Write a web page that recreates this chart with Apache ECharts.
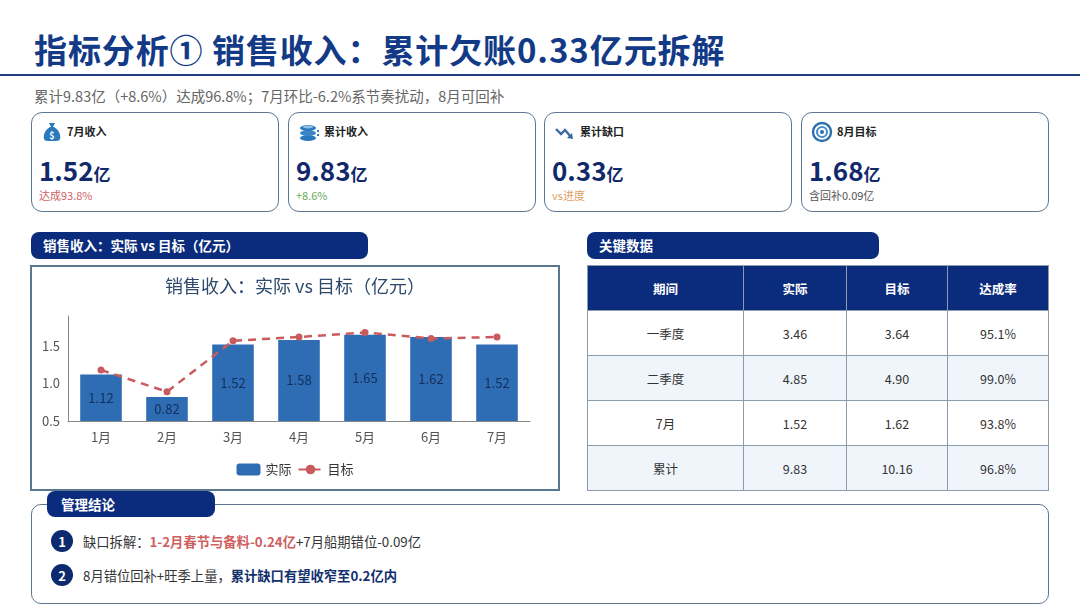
<!DOCTYPE html>
<html>
<head>
<meta charset="utf-8">
<script src="https://cdn.jsdelivr.net/npm/echarts@6/dist/echarts.min.js"></script>
<style>
  * { box-sizing: border-box; margin: 0; padding: 0; }
  body { width: 1080px; height: 608px; background: #fff; position: relative; overflow: hidden;
         font-family: "Noto Sans CJK SC", "Noto Sans", sans-serif; color: #333; }
  .abs { position: absolute; }
  #title { left: 34px; top: 25px; font-size: 33px; font-weight: 700; color: #133a86; letter-spacing: 0.9px; white-space: nowrap; }
  #rule { left: 0; top: 74px; width: 1080px; height: 2px; background: #1f3f7c; }
  #sub { left: 34px; top: 85px; font-size: 14.5px; color: #666; white-space: nowrap; }
  .card { border: 1.5px solid #5d7791; border-radius: 11px; width: 248px; height: 100px; top: 112px; }
  .card .ic { position: absolute; left: 9px; top: 8px; width: 22px; height: 22px; }
  .card .lb { position: absolute; left: 35px; top: 10px; font-size: 11px; font-weight: 700; color: #222; }
  .card .val { position: absolute; left: 7px; top: 38px; font-size: 26px; font-weight: 700; color: #11296a; white-space: nowrap; }
  .card .val span { font-size: 17px; }
  .card .note { position: absolute; left: 7px; top: 74px; font-size: 11px; white-space: nowrap; }
  .hdr { top: 232px; height: 27px; background: #0b2c7c; border-radius: 8px; color: #fff; font-size: 13.5px; font-weight: 700; line-height: 27px; padding-left: 12px; }
  #chartBox { left: 30px; top: 265px; width: 530px; height: 226px; border: 2px solid #5a7890; }
  #chart { position: absolute; left: 0; top: 0; width: 526px; height: 222px; }
  #tbl { left: 587px; top: 265px; border-collapse: collapse; font-size: 12.5px; }
  #tbl th, #tbl td { border: 1px solid #8b9cad; text-align: center; height: 45px; }
  #tbl th { background: #0b2c7c; color: #fff; font-weight: 700; }
  #tbl tr:nth-child(odd) td { background: #f0f5fc; }
  #concl { left: 31px; top: 504px; width: 1018px; height: 100px; border: 1.5px solid #5d7791; border-radius: 10px; }
  .item { left: 51px; font-size: 13.3px; color: #333; white-space: nowrap; display: flex; align-items: center; }
  .num { width: 22px; height: 22px; border-radius: 50%; background: #0d2a6e; color: #fff; font-size: 13px; font-weight: 700;
         display: inline-flex; align-items: center; justify-content: center; margin-right: 10px; }
</style>
</head>
<body>
<div id="title" class="abs">指标分析① 销售收入：累计欠账0.33亿元拆解</div>
<div id="rule" class="abs"></div>
<div id="sub" class="abs">累计9.83亿（+8.6%）达成96.8%；7月环比-6.2%系节奏扰动，8月可回补</div>

<div id="cards"></div>

<div class="abs hdr" style="left:31px;width:337px;">销售收入：实际 vs 目标（亿元）</div>
<div class="abs hdr" style="left:587px;width:292px;">关键数据</div>

<div id="chartBox" class="abs"><div id="chart"></div></div>

<table id="tbl" class="abs"></table>

<div id="concl" class="abs"></div>
<div class="abs hdr" style="left:47px;top:491px;width:168px;height:26px;line-height:26px;padding-left:14px;">管理结论</div>
<div class="abs item" style="top:530px;"><span class="num">1</span>缺口拆解：<b style="color:#cf5f5f;">1-2月春节与备料-0.24亿</b>+7月船期错位-0.09亿</div>
<div class="abs item" style="top:564px;"><span class="num">2</span>8月错位回补+旺季上量，<b style="color:#13306e;">累计缺口有望收窄至0.2亿内</b></div>

<script>
var months = ['1月', '2月', '3月', '4月', '5月', '6月', '7月'];
var actual = [1.12, 0.82, 1.52, 1.58, 1.65, 1.62, 1.52];
var target = [1.18, 0.89, 1.57, 1.62, 1.68, 1.60, 1.62];

var tableHead = ['期间', '实际', '目标', '达成率'];
var periods = ['一季度', '二季度', '7月', '累计'];
var periodActual = ['3.46', '4.85', '1.52', '9.83'];
var periodTarget = ['3.64', '4.90', '1.62', '10.16'];
var periodRate = ['95.1%', '99.0%', '93.8%', '96.8%'];

var cardLabels = ['7月收入', '累计收入', '累计缺口', '8月目标'];
var cardValues = ['1.52', '9.83', '0.33', '1.68'];
var cardNotes = ['达成93.8%', '+8.6%', 'vs进度', '含回补0.09亿'];
var cardNoteColors = ['#d06464', '#6aaa5a', '#e0a064', '#555'];
var cardLeft = [31, 288, 544, 801];

var icons = [
  '<svg viewBox="0 0 22 22"><path d="M8 2h6l-2 4h-2z" fill="#2c78bd"/><path d="M9 6h4c5 3 7 8 6 12-1 2-3 2-8 2s-7 0-8-2c-1-4 1-9 6-12z" fill="#2c78bd"/><text x="11" y="17.5" font-size="9" font-weight="700" fill="#fff" text-anchor="middle">$</text></svg>',
  '<svg viewBox="0 0 22 22"><ellipse cx="10" cy="17" rx="8" ry="3" fill="#2c78bd"/><ellipse cx="10" cy="12" rx="8" ry="3" fill="#3a86c8"/><ellipse cx="10" cy="7" rx="8" ry="3" fill="#2c78bd"/><ellipse cx="10" cy="6" rx="5" ry="1.4" fill="#8fc0e8"/><rect x="19" y="9" width="2" height="2" fill="#2c78bd"/><rect x="19" y="13" width="2" height="2" fill="#2c78bd"/></svg>',
  '<svg viewBox="0 0 22 22"><polyline points="2,8 7,13 11,9 17,16" fill="none" stroke="#3a6aa4" stroke-width="2.4"/><polygon points="13,17 19,18 18,12" fill="#3a6aa4"/></svg>',
  '<svg viewBox="0 0 22 22"><circle cx="11" cy="11" r="9" fill="none" stroke="#2c6fae" stroke-width="2.4"/><circle cx="11" cy="11" r="5" fill="none" stroke="#4a90c8" stroke-width="2.2"/><circle cx="11" cy="11" r="2" fill="#2c6fae"/></svg>'
];

var cardsHtml = '';
for (var i = 0; i < cardLabels.length; i++) {
  cardsHtml += '<div class="abs card" style="left:' + cardLeft[i] + 'px;">' +
    '<div class="ic">' + icons[i] + '</div>' +
    '<div class="lb">' + cardLabels[i] + '</div>' +
    '<div class="val">' + cardValues[i] + '<span>亿</span></div>' +
    '<div class="note" style="color:' + cardNoteColors[i] + ';">' + cardNotes[i] + '</div></div>';
}
document.getElementById('cards').innerHTML = cardsHtml;

var colW = [156, 103, 101, 101];
var tHtml = '<tr>';
tableHead.forEach(function (h, k) { tHtml += '<th style="width:' + colW[k] + 'px">' + h + '</th>'; });
tHtml += '</tr>';
periods.forEach(function (p, k) {
  tHtml += '<tr><td>' + p + '</td><td>' + periodActual[k] + '</td><td>' + periodTarget[k] + '</td><td>' + periodRate[k] + '</td></tr>';
});
document.getElementById('tbl').innerHTML = tHtml;

var myChart = echarts.init(document.getElementById('chart'));
var option = {
  animation: false,
  textStyle: { fontFamily: '"Noto Sans CJK SC", sans-serif' },
  title: {
    text: '销售收入：实际 vs 目标（亿元）',
    left: 'center',
    top: 5,
    textStyle: { fontSize: 18, fontWeight: 'normal', color: '#2d4a6c' }
  },
  legend: {
    bottom: 8,
    left: 'center',
    itemWidth: 24,
    itemHeight: 12,
    itemGap: 6,
    textStyle: { fontSize: 13, color: '#333' },
    data: ['实际', '目标']
  },
  grid: { left: 36, right: 28, top: 49, bottom: 68 },
  xAxis: {
    type: 'category',
    data: months,
    axisLine: { lineStyle: { color: '#888' } },
    axisTick: { lineStyle: { color: '#888' } },
    axisLabel: { fontSize: 13, color: '#555', margin: 10 }
  },
  yAxis: {
    type: 'value',
    min: 0.5,
    max: 1.9,
    interval: 0.5,
    axisLine: { show: true, lineStyle: { color: '#888' } },
    axisTick: { show: false },
    splitLine: { show: false },
    axisLabel: { fontSize: 13, color: '#555', showMaxLabel: false, formatter: function (v) { return v.toFixed(1); } }
  },
  series: [
    {
      name: '实际',
      type: 'bar',
      data: actual,
      barWidth: '63%',
      itemStyle: { color: '#2e6db3' },
      label: { show: true, position: 'inside', fontSize: 13, color: '#142f5c' }
    },
    {
      name: '目标',
      type: 'line',
      data: target,
      symbol: 'circle',
      symbolSize: 7,
      lineStyle: { color: '#c95b5e', width: 2.5, type: [8, 6] },
      itemStyle: { color: '#c95b5e' }
    }
  ]
};
option && myChart.setOption(option);
</script>
</body>
</html>
